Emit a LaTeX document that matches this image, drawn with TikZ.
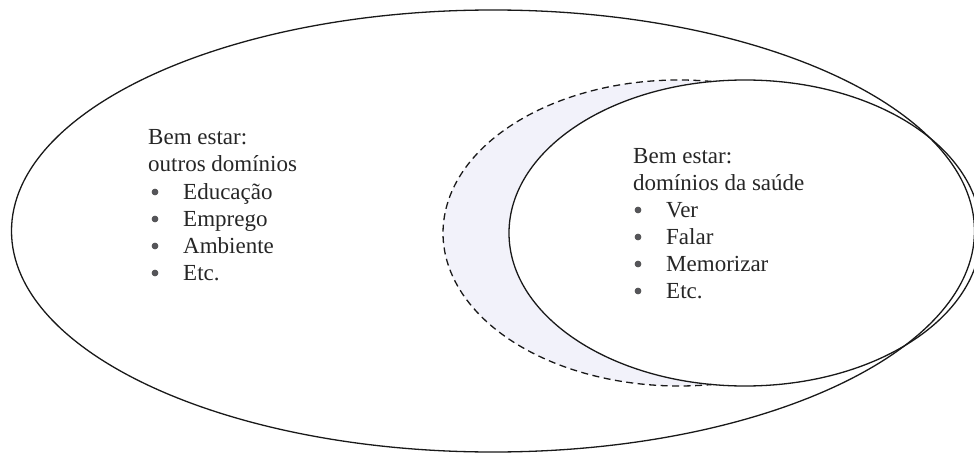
\documentclass[tikz,border=0pt]{standalone}
\usepackage{fontspec}
\setmainfont{Liberation Serif}
\definecolor{crescent}{RGB}{242,242,250}
\definecolor{bulletgrey}{RGB}{85,85,90}
\begin{document}
\begin{tikzpicture}[x=1pt,y=1pt,
  outline/.style={line width=1.3pt,draw=black!90},
  dashline/.style={line width=1.3pt,draw=black!90,dash pattern=on 7pt off 4.5pt},
  txt/.style={anchor=base west,inner sep=0pt,font=\fontsize{23}{27}\selectfont,text=black!85},
  dot/.style={circle,fill=bulletgrey,draw=black!70,line width=0.6pt,inner sep=0pt,minimum size=6pt}]
\useasboundingbox (0,0) rectangle (974,456);
\begin{scope}
\clip (0,0) rectangle (974,456);
% crescent fill
\fill[crescent] (679,223) ellipse [x radius=236, y radius=153];
\fill[white] (745,223) ellipse [x radius=236, y radius=153];
% big ellipse
\draw[outline] (493,225) ellipse [x radius=481.5, y radius=221];
% dashed arc
\draw[dashline] (679,223) ++(82:236pt and 153pt) arc [start angle=82, end angle=278, x radius=236, y radius=153];
% small ellipse
\draw[outline] (745,223) ellipse [x radius=236, y radius=153];
\end{scope}
% left text
\node[txt] (l1) at (148,{456-145}) {Bem estar:};
\node[txt] (l2) at (148,{456-172}) {outros domínios};
\node[txt] (l3) at (183,{456-199}) {Educação};
\node[txt] (l4) at (183,{456-226}) {Emprego};
\node[txt] (l5) at (183,{456-253}) {Ambiente};
\node[txt] (l6) at (183,{456-280}) {Etc.};
\node[dot] (lb3) at (155,{456-199+7}) {};
\node[dot] (lb4) at (155,{456-226+7}) {};
\node[dot] (lb5) at (155,{456-253+7}) {};
\node[dot] (lb6) at (155,{456-280+7}) {};
% right text
\node[txt] (r1) at (633,{456-163}) {Bem estar:};
\node[txt] (r2) at (633,{456-190}) {domínios da saúde};
\node[txt] (r3) at (666,{456-217}) {Ver};
\node[txt] (r4) at (666,{456-244}) {Falar};
\node[txt] (r5) at (666,{456-271}) {Memorizar};
\node[txt] (r6) at (666,{456-298}) {Etc.};
\node[dot] (rb3) at (638,{456-217+7}) {};
\node[dot] (rb4) at (638,{456-244+7}) {};
\node[dot] (rb5) at (638,{456-271+7}) {};
\node[dot] (rb6) at (638,{456-298+7}) {};
\end{tikzpicture}
\end{document}
